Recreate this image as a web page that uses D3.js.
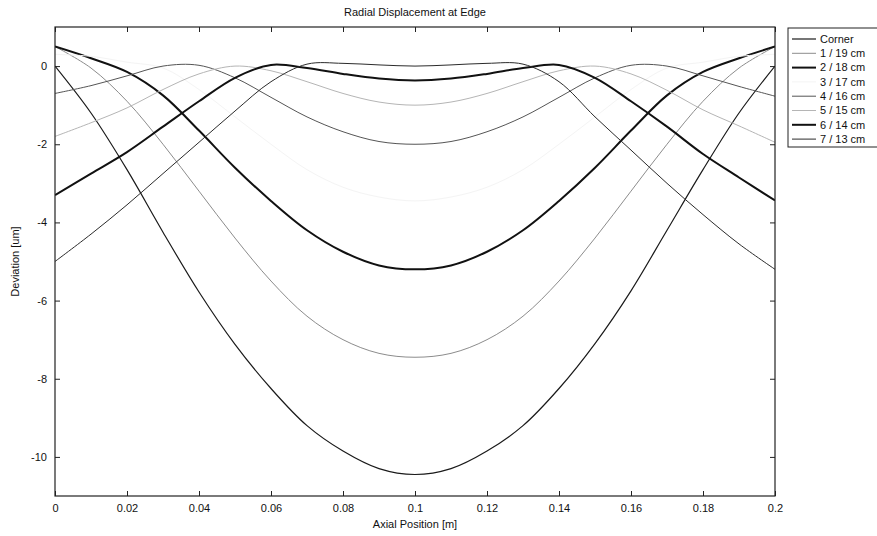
<!DOCTYPE html>
<html>
<head>
<meta charset="utf-8">
<script src="https://cdn.jsdelivr.net/npm/d3@7"></script>
<style>
  body { margin: 0; background: #fff; }
  svg { display: block; font-family: "Liberation Sans", Arial, sans-serif; }
</style>
</head>
<body>
<div id="container"></div>
<script>
// data (deviation in um, axial position in m)
const xs = [0, 0.01, 0.02, 0.03, 0.04, 0.05, 0.06, 0.07, 0.08, 0.09, 0.1,
            0.11, 0.12, 0.13, 0.14, 0.15, 0.16, 0.17, 0.18, 0.19, 0.2];
const seriesNames = ["Corner", "1 / 19 cm", "2 / 18 cm", "3 / 17 cm", "4 / 16 cm", "5 / 15 cm", "6 / 14 cm", "7 / 13 cm"];
const corner = [0, -1.2, -2.65, -4.25, -5.78, -7.12, -8.25, -9.2, -9.85, -10.3, -10.45,
                -10.3, -9.85, -9.2, -8.25, -7.1, -5.75, -4.2, -2.65, -1.2, 0];
const cm1 = [0.5, -0.05, -0.9, -2.0, -3.2, -4.4, -5.5, -6.4, -7.0, -7.35, -7.45,
             -7.35, -7.0, -6.4, -5.5, -4.4, -3.2, -2.0, -0.9, -0.05, 0.5];
const cm2 = [0.5, 0.2, -0.15, -0.75, -1.65, -2.6, -3.45, -4.2, -4.75, -5.1, -5.2,
             -5.1, -4.75, -4.2, -3.45, -2.6, -1.65, -0.75, -0.15, 0.2, 0.5];
const cm3 = [0.3, 0.25, 0.1, -0.05, -0.6, -1.3, -2.0, -2.65, -3.1, -3.35, -3.45,
             -3.35, -3.1, -2.65, -2.0, -1.3, -0.6, -0.05, 0.1, 0.25, 0.3];
const cm4 = [-0.7, -0.5, -0.25, 0.0, 0.02, -0.3, -0.8, -1.3, -1.68, -1.93, -2.0,
             -1.93, -1.68, -1.3, -0.8, -0.3, 0.02, 0.0, -0.25, -0.52, -0.77];
const cm5 = [-1.8, -1.45, -1.07, -0.6, -0.2, 0.0, -0.12, -0.4, -0.7, -0.92, -1.0,
             -0.92, -0.7, -0.4, -0.12, 0.0, -0.2, -0.62, -1.12, -1.53, -1.95];
const cm6 = [-3.3, -2.75, -2.2, -1.55, -0.9, -0.3, 0.03, -0.05, -0.2, -0.32, -0.37,
             -0.32, -0.2, -0.05, 0.03, -0.3, -0.9, -1.55, -2.25, -2.85, -3.44];
const cm7 = [-5.0, -4.3, -3.55, -2.75, -1.95, -1.15, -0.4, 0.05, 0.07, 0.03, 0.0,
             0.03, 0.07, 0.05, -0.4, -1.3, -2.15, -3.0, -3.8, -4.55, -5.2];
const xTicks = [0, 0.02, 0.04, 0.06, 0.08, 0.1, 0.12, 0.14, 0.16, 0.18, 0.2];
const yTicks = [0, -2, -4, -6, -8, -10];

const allSeries = [corner, cm1, cm2, cm3, cm4, cm5, cm6, cm7];
const strokes = ["#1a1a1a", "#8c8c8c", "#111", "#f4f4f4", "#555", "#b5b5b5", "#111", "#2b2b2b"];
const widths = [1.2, 1, 2, 1, 1, 1, 2, 1];

const W = 877, H = 536;
const margin = {left: 55, top: 27, right: 102, bottom: 40};
const pw = W - margin.left - margin.right;   // 720
const ph = H - margin.top - margin.bottom;   // 469

const x = d3.scaleLinear().domain([0, 0.2]).range([0, pw]);
const y = d3.scaleLinear().domain([-11, 1]).range([ph, 0]);

const svg = d3.select("#container").append("svg").attr("width", W).attr("height", H);

svg.append("text")
    .attr("x", margin.left + pw / 2).attr("y", 16)
    .attr("text-anchor", "middle").attr("font-size", 11).attr("fill", "#111")
    .text("Radial Displacement at Edge");

const g = svg.append("g").attr("transform", `translate(${margin.left},${margin.top})`);

// axes, ticks pointing inwards on all four sides
const fmt = d => String(+d.toFixed(2));
g.append("g").attr("transform", `translate(0,${ph})`)
    .call(d3.axisBottom(x).tickValues(xTicks).tickSize(-5).tickPadding(8).tickFormat(fmt));
g.append("g").call(d3.axisTop(x).tickValues(xTicks).tickSize(-5).tickFormat(""));
g.append("g")
    .call(d3.axisLeft(y).tickValues(yTicks).tickSize(-5).tickPadding(8).tickFormat(fmt));
g.append("g").attr("transform", `translate(${pw},0)`)
    .call(d3.axisRight(y).tickValues(yTicks).tickSize(-5).tickFormat(""));

g.selectAll(".domain").remove();
g.selectAll(".tick line").attr("stroke", "#222");
g.selectAll(".tick text").attr("font-size", 11).attr("fill", "#111").attr("font-family", "Liberation Sans, Arial, sans-serif");

// curves
const line = d3.line()
    .x((d, i) => x(xs[i]))
    .y(d => y(d))
    .curve(d3.curveCatmullRom);

g.append("clipPath").attr("id", "plot-clip")
    .append("rect").attr("width", pw).attr("height", ph);

g.append("g").attr("clip-path", "url(#plot-clip)")
    .selectAll("path.series")
    .data(allSeries)
    .enter()
    .append("path")
    .classed("series", true)
    .attr("d", line)
    .attr("fill", "none")
    .attr("stroke", (d, i) => strokes[i])
    .attr("stroke-width", (d, i) => widths[i]);

g.append("rect").attr("width", pw).attr("height", ph)
    .attr("fill", "none").attr("stroke", "#222").attr("stroke-width", 1.2);

// axis titles
svg.append("text")
    .attr("x", margin.left + pw / 2).attr("y", 528)
    .attr("text-anchor", "middle").attr("font-size", 11).attr("fill", "#111")
    .text("Axial Position [m]");
svg.append("text")
    .attr("transform", `translate(19,${margin.top + ph / 2}) rotate(-90)`)
    .attr("text-anchor", "middle").attr("font-size", 11).attr("fill", "#111")
    .text("Deviation [um]");

// legend
const lg = svg.append("g").attr("transform", "translate(788,28)");
lg.append("rect").attr("width", 120).attr("height", 119)
    .attr("fill", "#fff").attr("stroke", "#222").attr("stroke-width", 1);
const rows = lg.selectAll("g.row").data(seriesNames).enter().append("g")
    .classed("row", true)
    .attr("transform", (d, i) => `translate(0,${11 + i * 14.3})`);
rows.append("line").attr("x1", 4).attr("x2", 28)
    .attr("stroke", (d, i) => strokes[i])
    .attr("stroke-width", (d, i) => widths[i]);
rows.append("text").attr("x", 32).attr("dy", "0.35em")
    .attr("font-size", 11).attr("fill", "#111")
    .text(d => d);
</script>
</body>
</html>
